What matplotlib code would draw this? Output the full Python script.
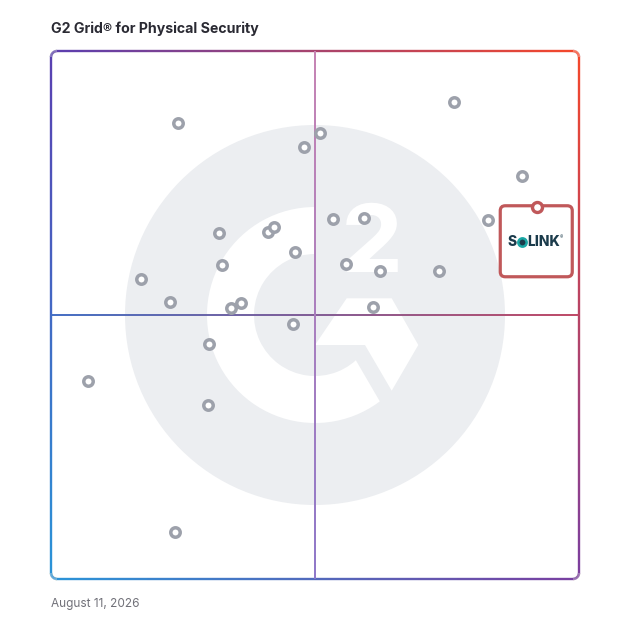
import numpy as np
import matplotlib
matplotlib.use("Agg")
import matplotlib.pyplot as plt
import matplotlib.transforms as mtransforms
from matplotlib.collections import LineCollection
from matplotlib.patches import Circle, Wedge, Polygon, FancyBboxPatch

plt.rcParams['font.family'] = ['Inter', 'DejaVu Sans']

title = "G2 Grid\u00ae for Physical Security"
date_label = "August 11, 2026"

# satisfaction (x) vs market presence (y), both 0-100
satisfaction = [76.3, 24.0, 50.9, 48.0, 89.2, 82.8, 53.5, 59.2, 31.9, 41.1, 42.2,
                46.3, 55.9, 32.3, 62.4, 73.5, 17.0, 22.5, 34.1, 35.9, 61.0, 45.8,
                30.0, 7.0, 29.8, 23.5]
presence = [90.3, 86.4, 84.4, 81.8, 76.3, 68.0, 68.2, 68.4, 65.6, 65.7, 66.7,
            61.9, 59.7, 59.5, 58.4, 58.3, 56.9, 52.5, 51.3, 52.2, 51.6, 48.3,
            44.5, 37.5, 32.9, 8.9]

highlight_name = "SOLINK"
highlight_sat = 92.0
highlight_pres = 70.5

# corner colours of the grid frame
c_tl = np.array([90, 63, 176]) / 255
c_tr = np.array([245, 71, 42]) / 255
c_bl = np.array([42, 148, 216]) / 255
c_br = np.array([122, 63, 160]) / 255

W = 628
fig = plt.figure(figsize=(6.28, 6.28), dpi=100)
bg = fig.add_axes([0, 0, 1, 1])
bg.set_xlim(0, W)
bg.set_ylim(W, 0)
bg.axis("off")

x0, y0, x1, y1 = 51, 51, 579, 579


def frame_color(px, py):
    u = (px - x0) / (x1 - x0)
    v = (py - y0) / (y1 - y0)
    return (1 - u) * (1 - v) * c_tl + u * (1 - v) * c_tr + (1 - u) * v * c_bl + u * v * c_br


# G2 logo watermark
logo_grey = "#eceef1"
cx, cy = 315, 315
bg.add_patch(Circle((cx, cy), 190, color=logo_grey, lw=0, zorder=1))
bg.add_patch(Wedge((cx, cy), 108, 40, 270, width=47, color="white", lw=0, zorder=2))
d = np.array([0.503, 0.864])
p = np.array([356.7, 361.7])
bg.add_patch(Polygon([p - 25 * d, p + 70 * d, (470, 422), (470, 340)],
                     closed=True, color=logo_grey, lw=0, zorder=3))
bg.add_patch(Polygon([(315, 345), (346.7, 298.3), (391.7, 298.3), (418.3, 345),
                      (391.7, 390.7), (365, 345)], closed=True, color="white", lw=0, zorder=4))
bg.text(372, 248, "2", color="white", fontsize=68, fontweight="heavy",
        ha="center", va="center", zorder=4)

# rounded gradient frame
r = 6
pts = []
for (ax_, ay_, a0) in [(x1 - r, y0 + r, -90), (x1 - r, y1 - r, 0),
                       (x0 + r, y1 - r, 90), (x0 + r, y0 + r, 180)]:
    for t in np.linspace(a0, a0 + 90, 8):
        pts.append((ax_ + r * np.cos(np.radians(t)), ay_ + r * np.sin(np.radians(t))))
pts.append(pts[0])
pts = np.array(pts)
dense = []
for i in range(len(pts) - 1):
    for s in np.linspace(0, 1, 40, endpoint=False):
        dense.append(pts[i] + s * (pts[i + 1] - pts[i]))
dense.append(pts[-1])
dense = np.array(dense)
segs = np.stack([dense[:-1], dense[1:]], axis=1)
mids = segs.mean(axis=1)
cols = [np.clip(frame_color(mx, my), 0, 1) for mx, my in mids]
bg.add_collection(LineCollection(segs, colors=cols, linewidths=1.7, zorder=5,
                                 capstyle="butt"))

bg.text(51, 29, title, fontsize=10.2, fontweight="bold", color="#2a2a33",
        ha="left", va="center")
bg.text(51, 604, date_label, fontsize=8.5, color="#707078", ha="left", va="center")

# data axes over the grid
ax = fig.add_axes([x0 / W, (W - y1) / W, (x1 - x0) / W, (y1 - y0) / W])
ax.set_xlim(0, 100)
ax.set_ylim(0, 100)
ax.axis("off")
ax.patch.set_alpha(0)

n = 200
xs = np.linspace(0, 100, n + 1)
hseg = [[(xs[i], 50), (xs[i + 1], 50)] for i in range(n)]
hl = np.array([66, 110, 196]) / 255
hr = np.array([192, 72, 100]) / 255
hcols = [hl + (hr - hl) * (i / n) for i in range(n)]
ax.add_collection(LineCollection(hseg, colors=hcols, linewidths=1.4, zorder=2))
vseg = [[(50, xs[i]), (50, xs[i + 1])] for i in range(n)]
vb = np.array([140, 118, 200]) / 255
vt = np.array([198, 130, 178]) / 255
vcols = [vb + (vt - vb) * (i / n) for i in range(n)]
ax.add_collection(LineCollection(vseg, colors=vcols, linewidths=1.4, zorder=2))

ax.plot(satisfaction, presence, "o", ms=6.8, mfc="white", mec="#9da1ab", mew=2.5,
        ls="none", zorder=3, clip_on=False)

# highlighted product card
card = fig.dpi_scale_trans + mtransforms.ScaledTranslation(highlight_sat, highlight_pres, ax.transData)
ax.add_patch(FancyBboxPatch((-0.365, -0.70), 0.72, 0.71,
                            boxstyle="round,pad=0,rounding_size=0.05",
                            transform=card, fc="white", ec="#c0585a", lw=2.3,
                            zorder=4, clip_on=False))
ax.plot(highlight_sat, highlight_pres, "o", ms=7.2, mfc="white", mec="#c0585a", mew=2.4,
        zorder=5, clip_on=False)
ax.text(-0.245, -0.355, highlight_name[0], transform=card, fontsize=10, fontweight="heavy",
        color="#1b3b4b", ha="center", va="center", zorder=6)
ax.plot([-0.145], [-0.355], "o", transform=card, ms=6, mfc="#1b3b4b", mec="#19a7a4",
        mew=1.8, zorder=6, clip_on=False)
ax.text(-0.095, -0.355, highlight_name[2:], transform=card, fontsize=10, fontweight="heavy",
        color="#1b3b4b", ha="left", va="center", zorder=6)
ax.text(0.25, -0.31, "\u00ae", transform=card, fontsize=3.5, color="#1b3b4b",
        ha="center", va="center", zorder=6)

fig.savefig("out.png", dpi=100, facecolor="white")
